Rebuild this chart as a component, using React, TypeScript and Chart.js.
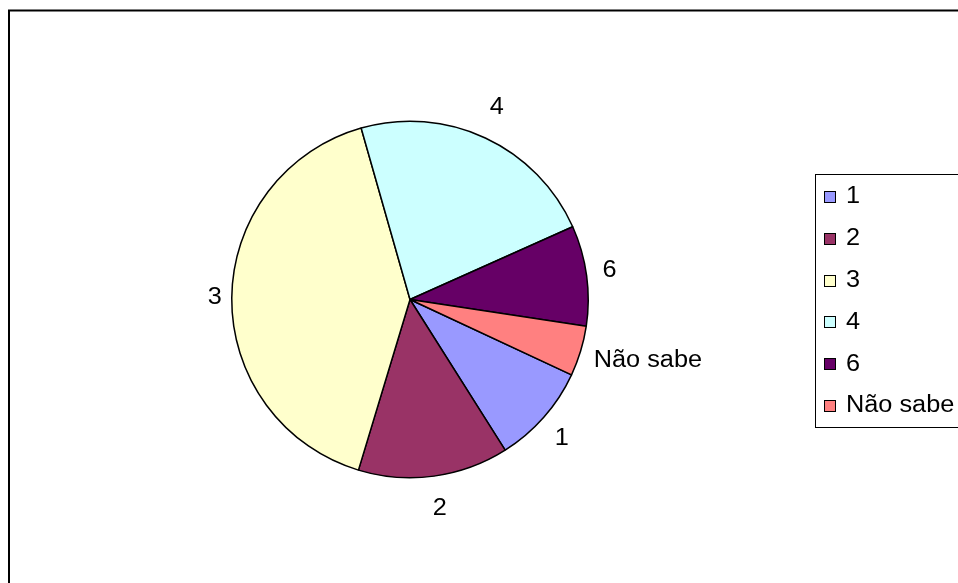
import React, { useEffect, useRef } from "react";
import { Chart, registerables } from "chart.js";
Chart.register(...registerables);

const categories = ["1", "2", "3", "4", "6", "Não sabe"];
const values = [4, 6, 18, 10, 4, 2];
const colors = ["#9999FF", "#993366", "#FFFFCC", "#CCFFFF", "#660066", "#FF8080"];

const FONT = "23px 'Liberation Sans', Arial, sans-serif";
const SX = 1.1;

function drawText(ctx: CanvasRenderingContext2D, text: string, x: number, y: number, align: "center" | "left") {
  ctx.save();
  ctx.font = FONT;
  ctx.textBaseline = "middle";
  const w = ctx.measureText(text).width * SX;
  const left = align === "center" ? x - w / 2 : x;
  ctx.translate(left, y);
  ctx.scale(SX, 1);
  ctx.textAlign = "left";
  ctx.fillStyle = "#000";
  ctx.fillText(text, 0, 0);
  ctx.restore();
}

const decorPlugin = {
  id: "decor",
  afterDraw(chart: any) {
    const ctx: CanvasRenderingContext2D = chart.ctx;
    // outer frame
    ctx.save();
    ctx.strokeStyle = "#000";
    ctx.lineWidth = 2;
    ctx.strokeRect(9, 10.5, 1100, 1000);
    ctx.restore();

    // slice labels
    const meta = chart.getDatasetMeta(0);
    meta.data.forEach((arc: any, i: number) => {
      const mid = (arc.startAngle + arc.endAngle) / 2;
      const R = arc.outerRadius;
      const gx = 13;
      const gy = 23;
      ctx.save();
      ctx.font = FONT;
      const w = ctx.measureText(categories[i]).width * SX;
      ctx.restore();
      const h = 20;
      const c = Math.cos(mid), s = Math.sin(mid);
      const px = arc.x + (R + gx) * c + 3;
      const py = arc.y + (R + gy) * s;
      drawText(ctx, categories[i], px + (c * w) / 2, py + (s * h) / 2, "center");
    });

    // legend
    ctx.save();
    ctx.strokeStyle = "#000";
    ctx.lineWidth = 1;
    ctx.strokeRect(815.5, 174.5, 300, 253);
    ctx.restore();
    categories.forEach((cat, i) => {
      const yc = 197 + i * 41.8;
      ctx.save();
      ctx.fillStyle = colors[i];
      ctx.fillRect(824, Math.round(yc - 6), 12, 12);
      ctx.strokeStyle = "#000";
      ctx.lineWidth = 1;
      ctx.strokeRect(824.5, Math.round(yc - 6) + 0.5, 11, 11);
      ctx.restore();
      drawText(ctx, cat, 846, yc, "left");
    });
  },
};

export default function App() {
  const ref = useRef<HTMLCanvasElement>(null);
  useEffect(() => {
    if (!ref.current) return;
    const chart = new Chart(ref.current, {
      type: "pie",
      data: {
        labels: categories,
        datasets: [
          {
            data: values,
            backgroundColor: colors,
            borderColor: "#000",
            borderWidth: 1.5,
          },
        ],
      },
      options: {
        responsive: false,
        animation: false,
        rotation: 115,
        layout: { padding: { left: 231, top: 120, right: 369, bottom: 104 } },
        plugins: {
          legend: { display: false },
          tooltip: { enabled: false },
        },
      },
      plugins: [decorPlugin],
    });
    return () => chart.destroy();
  }, []);
  return (
    <div style={{ position: "absolute", left: 0, top: 0, width: 958, height: 583, background: "#fff" }}>
      <canvas ref={ref} width={958} height={583} style={{ width: 958, height: 583 }} />
    </div>
  );
}
